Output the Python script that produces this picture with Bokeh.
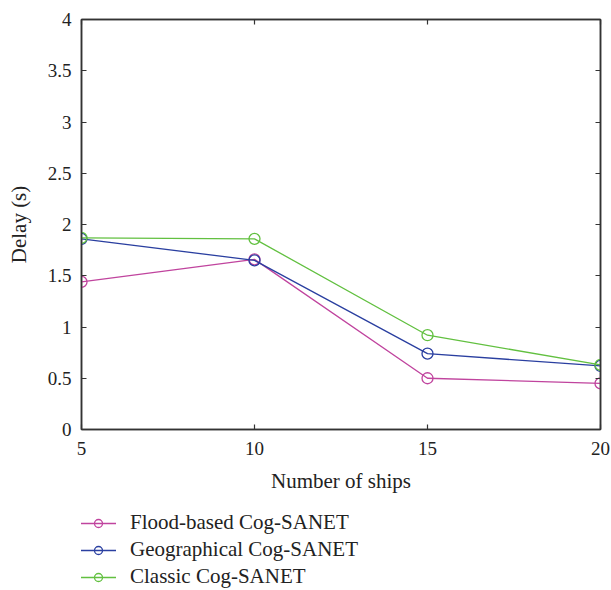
from bokeh.plotting import figure
from bokeh.models import LinearAxis, Legend, LegendItem, FixedTicker, Range1d, CustomJSTickFormatter
from bokeh.layouts import column
from bokeh.embed import file_html
from bokeh.resources import INLINE

ships = [5, 10, 15, 20]
flood = [1.44, 1.66, 0.50, 0.45]
geo = [1.86, 1.65, 0.74, 0.62]
classic = [1.87, 1.86, 0.92, 0.63]
series_names = ["Flood-based Cog-SANET", "Geographical Cog-SANET", "Classic Cog-SANET"]
colors = ["#c0449e", "#2a3fa0", "#62c040"]
x_ticks = [5, 10, 15, 20]
y_ticks = [0, 0.5, 1, 1.5, 2, 2.5, 3, 3.5, 4]
y_tick_labels = ["0", "0.5", "1", "1.5", "2", "2.5", "3", "3.5", "4"]

FONT = "Liberation Serif"
AX = "#333333"
TXT = "#222222"

p = figure(width=611, height=510, output_backend="svg", toolbar_location=None,
           x_range=Range1d(5, 20), y_range=Range1d(0, 4),
           min_border_left=81, min_border_right=11, min_border_top=19,
           min_border_bottom=81, x_axis_location=None, y_axis_location=None)
p.grid.visible = False
p.outline_line_color = AX
p.outline_line_width = 1.5

def style(ax, labels=True):
    ax.axis_line_color = AX
    ax.axis_line_width = 1.5
    ax.major_tick_line_color = AX
    ax.major_tick_line_width = 1.2
    ax.major_tick_in = 5
    ax.major_tick_out = 0
    ax.minor_tick_line_color = None
    ax.major_label_text_font = FONT
    ax.major_label_text_font_size = "19px"
    ax.major_label_text_color = TXT
    ax.axis_label_text_font = FONT
    ax.axis_label_text_font_size = "21px"
    ax.axis_label_text_font_style = "normal"
    ax.axis_label_text_color = TXT
    if not labels:
        ax.formatter = CustomJSTickFormatter(code="return '';")
        ax.major_label_standoff = 0

xb = LinearAxis(ticker=FixedTicker(ticks=x_ticks), axis_label="Number of ships")
style(xb)
xb.major_label_standoff = 12
xb.axis_label_standoff = 11
p.add_layout(xb, "below")

yl = LinearAxis(ticker=FixedTicker(ticks=y_ticks), axis_label="Delay (s)")
style(yl)
yl.major_label_overrides = {t: l for t, l in zip(y_ticks, y_tick_labels)}
yl.major_label_standoff = 10
yl.axis_label_standoff = 14
p.add_layout(yl, "left")

xt = LinearAxis(ticker=FixedTicker(ticks=x_ticks))
style(xt, labels=False)
p.add_layout(xt, "above")
yr = LinearAxis(ticker=FixedTicker(ticks=y_ticks))
style(yr, labels=False)
p.add_layout(yr, "right")

all_series = [flood, geo, classic]
for ys, c in zip(all_series, colors):
    p.line(ships, ys, line_color=c, line_width=1.3)
    p.scatter(ships, ys, marker="circle", size=11, fill_color=None, line_color=c, line_width=1.3)

# legend panel below the chart (its data lie outside its own view, only the legend shows)
q = figure(width=611, height=80, output_backend="svg", toolbar_location=None,
           x_range=Range1d(100, 101), y_range=Range1d(100, 101),
           x_axis_location=None, y_axis_location=None,
           min_border=0, min_border_left=0, min_border_right=0,
           min_border_top=0, min_border_bottom=0)
q.grid.visible = False
q.outline_line_color = None

leg_items = []
for name, ys, c in zip(series_names, all_series, colors):
    r1 = q.line(ships, ys, line_color=c, line_width=1.5)
    r2 = q.scatter(ships, ys, marker="circle", size=7, fill_color=None, line_color=c, line_width=1.3)
    leg_items.append(LegendItem(label=name, renderers=[r1, r2]))

legend = Legend(items=leg_items, location=(-1, 1), orientation="vertical",
                label_text_font=FONT, label_text_font_size="21px", label_text_color=TXT,
                glyph_width=36, glyph_height=20, spacing=2, padding=0, margin=0,
                label_standoff=14, border_line_color=None, background_fill_alpha=0)
q.add_layout(legend, "center")

layout = column(p, q, spacing=0)
open("out.html", "w").write(file_html(layout, INLINE))
